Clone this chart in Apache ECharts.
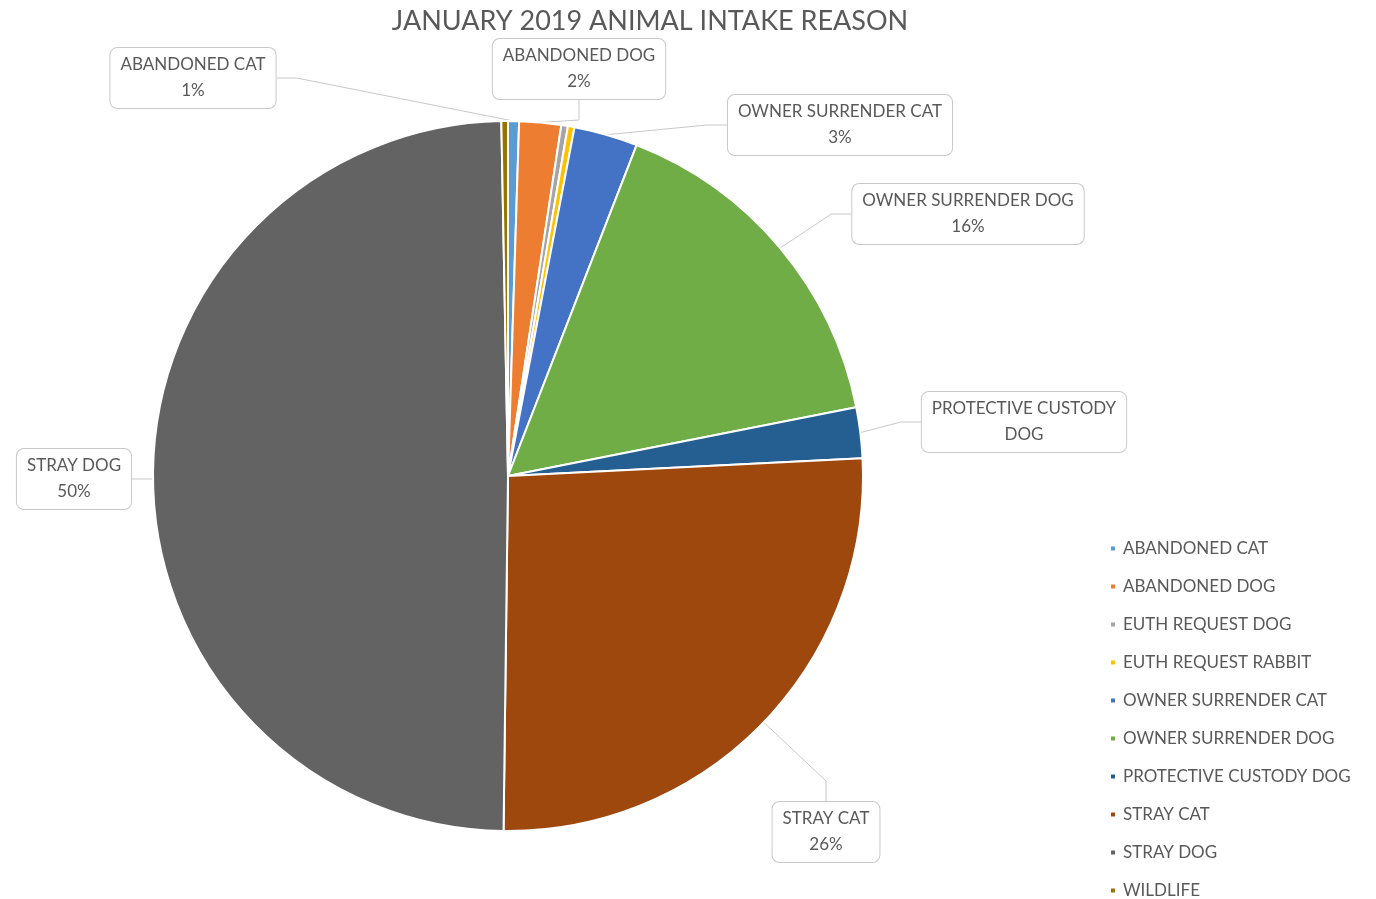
<!DOCTYPE html>
<html><head><meta charset="utf-8">
<script src="https://cdn.jsdelivr.net/npm/echarts@6/dist/echarts.min.js"></script>
<style>html,body{margin:0;padding:0;background:#fff}#c{width:1376px;height:899px}</style>
</head><body><div id="c"></div>
<script>
const title = 'JANUARY 2019 ANIMAL INTAKE REASON';
const categories = ['ABANDONED CAT','ABANDONED DOG','EUTH REQUEST DOG','EUTH REQUEST RABBIT','OWNER SURRENDER CAT','OWNER SURRENDER DOG','PROTECTIVE CUSTODY DOG','STRAY CAT','STRAY DOG','WILDLIFE'];
const values = [5, 19, 3, 3, 29, 160, 23, 260, 495, 3];
const colors = ['#5B9BD5','#ED7D31','#A5A5A5','#FFC000','#4472C4','#70AD47','#255E91','#9E480E','#636363','#997300'];
// label style: 'pct' = name + percent, 'name' = name only, null = hidden
const labelKinds = ['pct','pct',null,null,'pct','pct','name','pct','pct',null];
const labelNames = {'PROTECTIVE CUSTODY DOG':'PROTECTIVE CUSTODY\nDOG'};
// callout box centres (layout only)
const calloutPos = [[193,78],[579,69],null,null,[840,125],[968,214],[1024,422],[826,832],[74,479]];

const txt = '#595959';
const font = 'Lato';
const data = categories.map((n,i)=>{
  const item = {name:n, value:values[i], itemStyle:{color:colors[i]}};
  if(!labelKinds[i]) { item.label={show:false}; item.labelLine={show:false}; }
  else if(labelKinds[i]==='name') { item.label={formatter: ()=> labelNames[n] || n}; }
  return item;
});
const chart = echarts.init(document.getElementById('c'));
chart.setOption({
  animation:false,
  title:{text:title,left:645,top:3,textAlign:'center',textStyle:{color:txt,fontFamily:font,fontSize:27,fontWeight:'normal'}},
  legend:{orient:'vertical',left:1109,top:540,height:400,padding:0,itemGap:21,itemWidth:6,itemHeight:6,icon:'rect',
    textStyle:{color:txt,fontFamily:font,fontSize:17,padding:[0,0,0,2]},data:categories},
  series:[{
    type:'pie',center:[508,476],radius:355,startAngle:90,clockwise:true,
    percentPrecision:0,
    avoidLabelOverlap:false,
    itemStyle:{borderColor:'#fff',borderWidth:2},
    label:{show:true,position:'outside',formatter:'{b}\n{d}%',color:txt,fontFamily:font,fontSize:17,lineHeight:26,
      backgroundColor:'#fff',borderColor:'#C8C8C8',borderWidth:1,borderRadius:7,padding:[4,10],align:'center'},
    labelLine:{show:true,length:20,length2:20,lineStyle:{color:'#C8C8C8',width:1}},
    labelLayout:function(p){
      const pos = calloutPos[p.dataIndex];
      if(!pos) return {};
      return {x:pos[0],y:pos[1],align:'center',verticalAlign:'middle'};
    },
    data:data
  }]
});
</script></body></html>
